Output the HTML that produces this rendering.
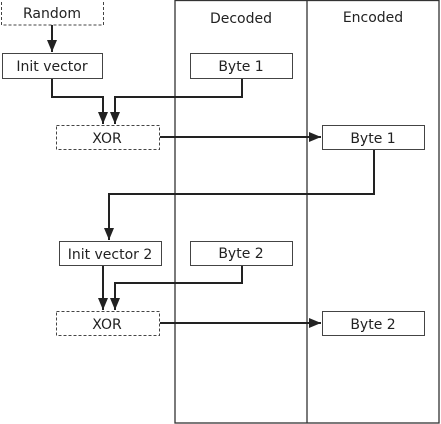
<!DOCTYPE html>
<html><head><style>body{margin:0;background:#fff}svg{display:block}text{font-family:"DejaVu Sans","Liberation Sans",sans-serif;font-size:14px;fill:#222}</style></head><body>
<svg width="441" height="424" viewBox="0 0 441 424">
<defs><marker id="a" markerWidth="12" markerHeight="10" refX="12" refY="5" orient="auto" markerUnits="userSpaceOnUse"><path d="M0,0L12,5L0,10z" fill="#222"/></marker></defs>
<g fill="none" stroke="#333" stroke-width="1.3">
<rect x="175" y="0.5" width="264" height="422.5"/>
<line x1="307" y1="0" x2="307" y2="423"/>
</g>
<g fill="#fff" stroke="#444" stroke-width="1">
<rect x="1.5" y="-1" width="102" height="26" stroke-dasharray="3,2"/>
<rect x="2.5" y="53.5" width="100" height="25"/>
<rect x="190.5" y="53.5" width="102" height="25"/>
<rect x="56.5" y="125.5" width="103" height="24" stroke-dasharray="3,2"/>
<rect x="322.5" y="125.5" width="102" height="24"/>
<rect x="59.5" y="241.5" width="102" height="24"/>
<rect x="190.5" y="241.5" width="102" height="24"/>
<rect x="56.5" y="311.5" width="103" height="24" stroke-dasharray="3,2"/>
<rect x="322.5" y="311.5" width="102" height="24"/>
</g>
<g fill="none" stroke="#222" stroke-width="2">
<path d="M52,25V52" marker-end="url(#a)"/>
<path d="M52,79V97H103V124" marker-end="url(#a)"/>
<path d="M242,79V97H115V124" marker-end="url(#a)"/>
<path d="M160,137H321" marker-end="url(#a)"/>
<path d="M374,150V194H109V240" marker-end="url(#a)"/>
<path d="M103,266V310" marker-end="url(#a)"/>
<path d="M242,266V283H115V310" marker-end="url(#a)"/>
<path d="M160,323H321" marker-end="url(#a)"/>
</g>
<g text-anchor="middle">
<text x="52" y="18">Random</text>
<text x="241" y="23">Decoded</text>
<text x="373" y="22">Encoded</text>
<text x="52" y="71">Init vector</text>
<text x="241" y="71">Byte 1</text>
<text x="107" y="143">XOR</text>
<text x="373" y="143">Byte 1</text>
<text x="110" y="259">Init vector 2</text>
<text x="241" y="258">Byte 2</text>
<text x="107" y="329">XOR</text>
<text x="373" y="329">Byte 2</text>
</g>
</svg>
</body></html>
